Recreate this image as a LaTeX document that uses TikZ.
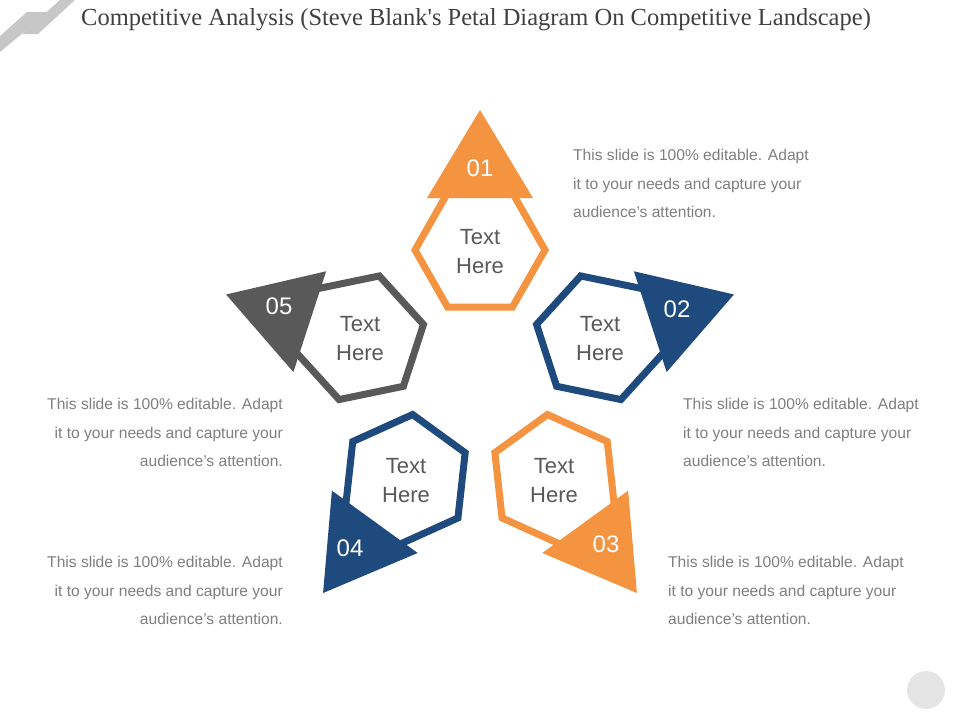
\documentclass[tikz,border=0pt]{standalone}
\usepackage{fontspec}
\setmainfont{Liberation Sans}
\newfontfamily\titlefont{Liberation Serif}
\definecolor{org}{HTML}{F59440}
\definecolor{nav}{HTML}{1F4A7E}
\definecolor{dgr}{HTML}{595959}
\definecolor{txt}{HTML}{7F7F7F}
\begin{document}
\begin{tikzpicture}[x=1pt,y=-1pt,
  hexline/.style={line width=7pt,line join=miter},
  lbl/.style={text=dgr,font=\fontsize{22}{29}\selectfont,align=center},
  num/.style={text=white,font=\fontsize{24}{24}\selectfont},
  desc/.style={text=txt,font=\fontsize{15.6}{28.5}\selectfont,inner sep=0pt}]
\useasboundingbox (0,0) rectangle (960,720);
\fill[white] (0,0) rectangle (960,720);
% top-left stripes
\fill[black!22] (0,36) -- (27,12) -- (48,12) -- (0,52) -- cycle;
\fill[black!22] (22,34) -- (60,0) -- (75,0) -- (38,34) -- cycle;
\node[anchor=base west,text=black!75,font=\titlefont\fontsize{24.5}{24}\selectfont,inner sep=0pt] (title) at (81,25) {Competitive Analysis (Steve Blank's Petal Diagram On Competitive Landscape)};
\fill[black!10] (926,690) circle (19);
\coordinate (c) at (480,377);
\foreach \k/\col in {0/org,1/nav,2/org,3/nav,4/dgr}{
  \begin{scope}[rotate around={-72*\k:(c)}]
    \draw[hexline,\col] (415,250) -- (447.5,193) -- (512.5,193) -- (545,250) -- (512.5,307) -- (447.5,307) -- cycle;
    \fill[\col] (427,198) -- (480,110) -- (533,198) -- cycle;
  \end{scope}
}
\node[lbl] (t1) at (480,252) {Text\\Here};
\node[lbl] (t2) at (600,339) {Text\\Here};
\node[lbl] (t3) at (554,481) {Text\\Here};
\node[lbl] (t4) at (406,481) {Text\\Here};
\node[lbl] (t5) at (360,339) {Text\\Here};
\node[num] (n1) at (480,168) {01};
\node[num] (n2) at (677,309) {02};
\node[num] (n3) at (606,544) {03};
\node[num] (n4) at (350,548) {04};
\node[num] (n5) at (279,306) {05};
\node[desc,anchor=north west,align=left] (d1) at (573,149) {This slide is 100\% editable. Adapt\\it to your needs and capture your\\audience's attention.};
\node[desc,anchor=north west,align=left] (d2) at (683,398) {This slide is 100\% editable. Adapt\\it to your needs and capture your\\audience's attention.};
\node[desc,anchor=north west,align=left] (d3) at (668,556) {This slide is 100\% editable. Adapt\\it to your needs and capture your\\audience's attention.};
\node[desc,anchor=north east,align=right] (d5) at (283,398) {This slide is 100\% editable. Adapt\\it to your needs and capture your\\audience's attention.};
\node[desc,anchor=north east,align=right] (d4) at (283,556) {This slide is 100\% editable. Adapt\\it to your needs and capture your\\audience's attention.};
\end{tikzpicture}
\end{document}
